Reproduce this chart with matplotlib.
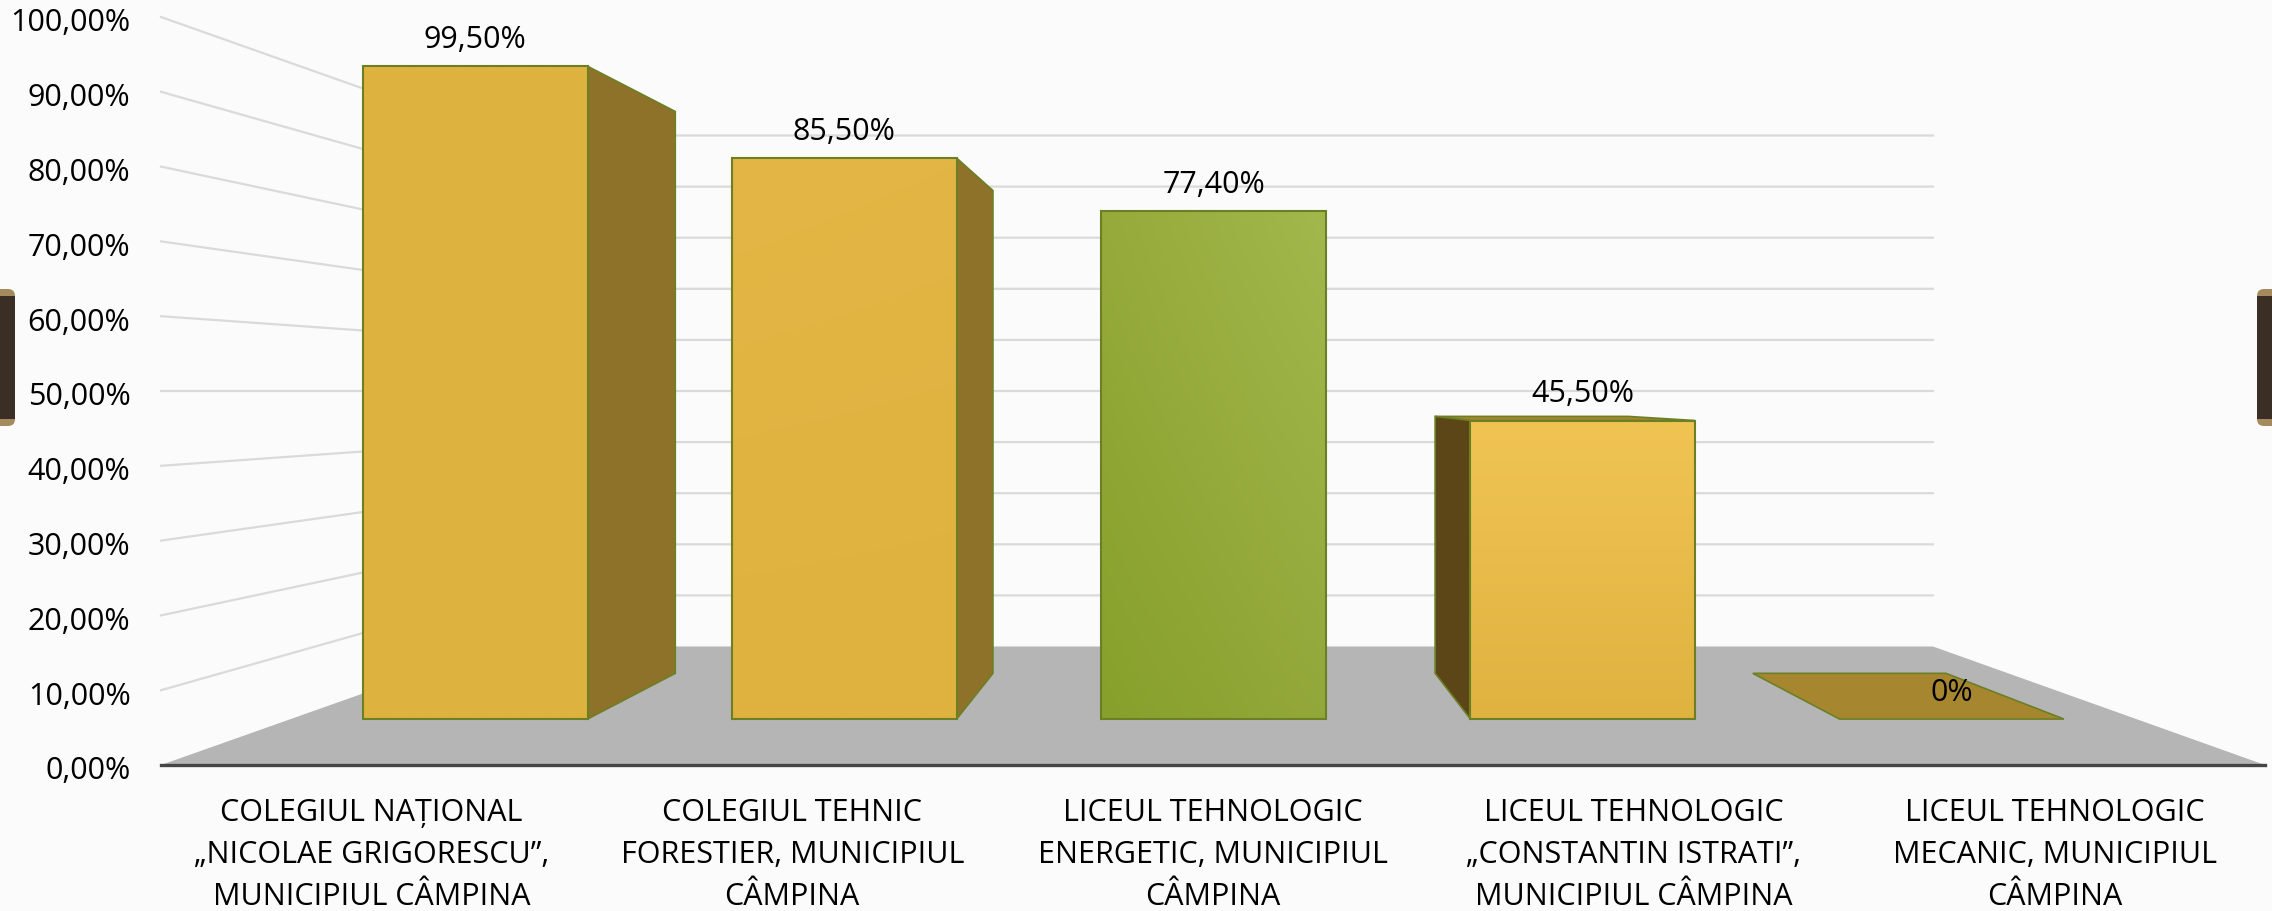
"""Pseudo-3D column chart, perspective drawn by hand on a flat axes."""
import numpy as np
import matplotlib
matplotlib.use("Agg")
import matplotlib.pyplot as plt
from matplotlib.colors import to_rgb
from matplotlib.patches import Polygon, Rectangle, FancyBboxPatch
from matplotlib.transforms import IdentityTransform, ScaledTranslation

categories = [
    "COLEGIUL NAȚIONAL\n„NICOLAE GRIGORESCU”,\nMUNICIPIUL CÂMPINA",
    "COLEGIUL TEHNIC\nFORESTIER, MUNICIPIUL\nCÂMPINA",
    "LICEUL TEHNOLOGIC\nENERGETIC, MUNICIPIUL\nCÂMPINA",
    "LICEUL TEHNOLOGIC\n„CONSTANTIN ISTRATI”,\nMUNICIPIUL CÂMPINA",
    "LICEUL TEHNOLOGIC\nMECANIC, MUNICIPIUL\nCÂMPINA",
]
values = [99.5, 85.5, 77.4, 45.5, 0]
value_labels = ["99,50%", "85,50%", "77,40%", "45,50%", "0%"]
y_ticks = [0, 10, 20, 30, 40, 50, 60, 70, 80, 90, 100]
y_tick_labels = ["0,00%", "10,00%", "20,00%", "30,00%", "40,00%", "50,00%",
                 "60,00%", "70,00%", "80,00%", "90,00%", "100,00%"]

W, H = 2272, 912
BAR_W = 0.608
DEPTH_FRONT, DEPTH_BACK = 0.302, 0.70
VX, VY = 2.01, 50.0  # vanishing point in data coords
PERSP = 0.4638

# top-left, top-right, bottom-left, bottom-right
face_colors = [
    ("#DFB33F", "#DFB33F", "#DEB23E", "#DEB23E"),
    ("#E3B645", "#E2B544", "#DFB23F", "#DFB23F"),
    ("#95AA3A", "#A3B84C", "#87A02B", "#93A83A"),
    ("#F0C453", "#F0C453", "#E0B240", "#E0B240"),
]
side_colors = ["#8F722A", "#8F722A", None, "#5C4517"]
top_color = "#A68730"
edge_color = "#6B8024"
text_color = "#000000"

plt.rcParams["font.family"] = ["Open Sans", "DejaVu Sans"]


def project(x, v, d):
    k = 1 / (1 + d * PERSP)
    return VX + (x - VX) * k, VY + (v - VY) * k


def corner_gradient(colors, n=48):
    tl, tr, bl, br = [np.array(to_rgb(c)) for c in colors]
    u = np.linspace(0, 1, n)[None, :, None]
    v = np.linspace(0, 1, n)[:, None, None]
    return (tl * (1 - u) + tr * u) * (1 - v) + (bl * (1 - u) + br * u) * v


fig = plt.figure(figsize=(W / 100, H / 100), dpi=100, facecolor="#FBFBFB")
ax = fig.add_axes([161 / W, 1 - 766 / H, 2104 / W, 748 / H])
ax.patch.set_visible(False)

# walls
for t in y_ticks[1:]:
    x_f, y_f = project(-0.5, t, 0)
    x_b, y_b = project(-0.5, t, 1)
    x_r, _ = project(4.5, t, 1)
    ax.plot([x_f, x_b, x_r], [y_f, y_b, y_b], color="#DADADA", lw=1.6,
            clip_on=False, zorder=1, solid_joinstyle="miter")

# floor
floor = [project(-0.5, 0, 0), project(4.5, 0, 0), project(4.5, 0, 1), project(-0.5, 0, 1)]
ax.add_patch(Polygon(floor, closed=True, fc="#B5B5B5", ec="none", zorder=2, clip_on=False))
ax.plot([-0.5, 4.5], [0, 0], color="#454545", lw=2.4, zorder=3, clip_on=False)

for i, (val, lab) in enumerate(zip(values, value_labels)):
    l, r = i - BAR_W / 2, i + BAR_W / 2
    z = 5 + abs(i - VX)
    fl, fb = project(l, 0, DEPTH_FRONT)
    fr, ft = project(r, val, DEPTH_FRONT)
    bl, bb = project(l, 0, DEPTH_BACK)
    br, bt = project(r, val, DEPTH_BACK)

    if val == 0:
        # only the flat lid is left of this column
        ax.add_patch(Polygon([(fl, fb), (fr, fb), (br, bb), (bl, bb)], closed=True,
                             fc=top_color, ec=edge_color, lw=1.2, zorder=z, clip_on=False))
    else:
        if fr < VX:
            side = [(fr, fb), (fr, ft), (br, bt), (br, bb)]
        else:
            side = [(fl, fb), (fl, ft), (bl, bt), (bl, bb)]
        if ft < VY:
            lid = [(fl, ft), (fr, ft), (br, bt), (bl, bt)]
            ax.add_patch(Polygon(lid, closed=True, fc=top_color, ec=edge_color, lw=1.2,
                                 zorder=z, clip_on=False))
        if side_colors[i]:
            ax.add_patch(Polygon(side, closed=True, fc=side_colors[i], ec=edge_color, lw=1.2,
                                 zorder=z, clip_on=False))
        ax.imshow(corner_gradient(face_colors[i]), extent=(fl, fr, fb, ft), origin="upper",
                  aspect="auto", interpolation="bilinear", zorder=z + 0.1)
        ax.add_patch(Rectangle((fl, fb), fr - fl, ft - fb, fc="none", ec=edge_color, lw=1.5,
                               zorder=z + 0.2, clip_on=False))

    ax.annotate(lab, ((fl + fr) / 2, ft), xytext=(0, 19.8), textcoords="offset points",
                ha="center", va="center", fontsize=22, color=text_color, zorder=20)

ax.set_xlim(-0.5, 4.5)
ax.set_ylim(0, 100)
ax.set_xticks(range(len(categories)))
ax.set_xticklabels(categories, fontsize=22, color=text_color, linespacing=1.52)
ax.set_yticks(y_ticks)
ax.set_yticklabels(y_tick_labels, fontsize=22, color=text_color)
ax.tick_params(axis="x", length=0, pad=23)
ax.tick_params(axis="y", length=0, pad=22)
shift_down = ScaledTranslation(0, -1.4 / 72, fig.dpi_scale_trans)
for t in ax.get_yticklabels():
    t.set_transform(t.get_transform() + shift_down)
for s in ax.spines.values():
    s.set_visible(False)

# dark tabs at both edges of the slide, in pixels
for x0, x1 in [(-14, 15), (2257, 2286)]:
    fig.add_artist(FancyBboxPatch((x0, H - 427), x1 - x0, 137, boxstyle="round,pad=0,rounding_size=7",
                                  transform=IdentityTransform(), fc="#A58A5E", ec="none"))
    fig.add_artist(Rectangle((x0, H - 420), x1 - x0, 123, transform=IdentityTransform(),
                             fc="#3A2E25", ec="none"))

fig.savefig("out.png", dpi=100, facecolor=fig.get_facecolor())
plt.close(fig)
